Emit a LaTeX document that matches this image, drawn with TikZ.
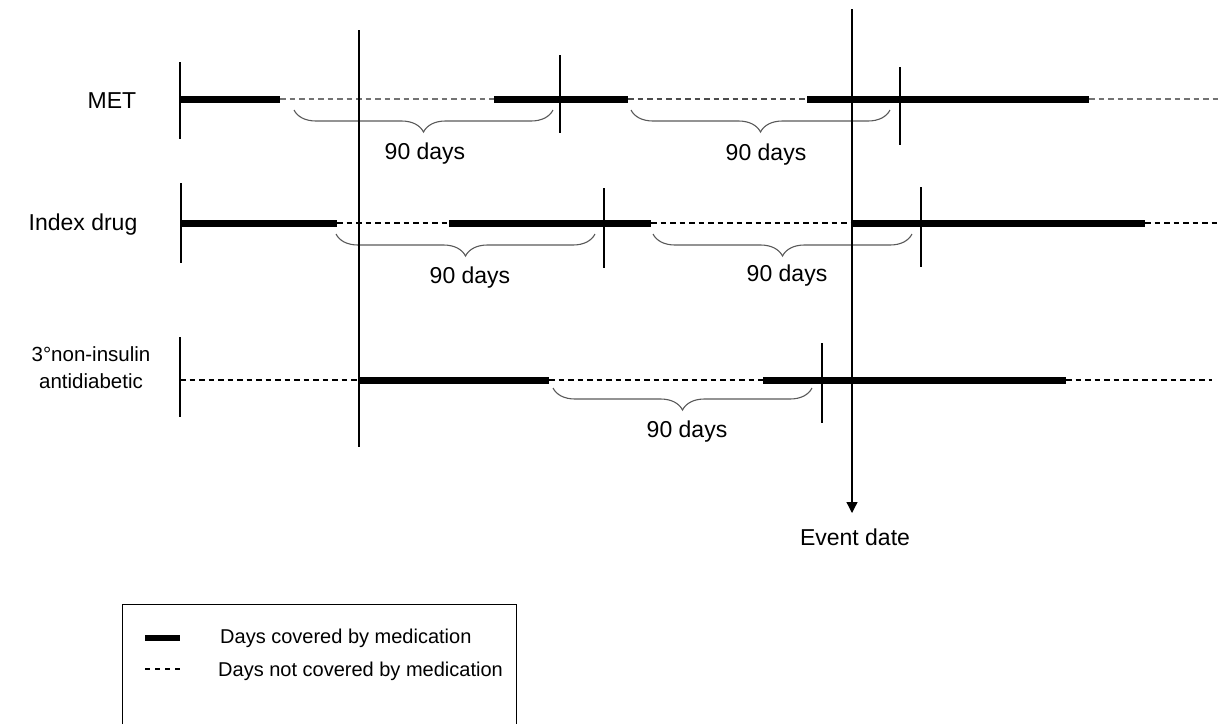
\documentclass[tikz,border=0pt]{standalone}
\usepackage{fontspec}
\setmainfont{Liberation Sans}
\usetikzlibrary{decorations.pathreplacing,arrows.meta}
\begin{document}
\begin{tikzpicture}[x=1pt,y=-1pt,
  covered/.style={line width=7pt},
  uncovered/.style={line width=1.2pt, dash pattern=on 5.5pt off 4pt},
  lightdash/.style={uncovered, draw=black!55},
  tickline/.style={line width=1.2pt},
  bracestyle/.style={draw=black!65, line width=1.1pt, decorate, decoration={brace,mirror,amplitude=22pt}},
  lbl/.style={font=\fontsize{23}{27}\selectfont, anchor=base, inner sep=0pt},
  leglbl/.style={font=\fontsize{20}{24}\selectfont, anchor=base west, inner sep=0pt}]
\path[use as bounding box] (0,0) rectangle (1221,724);

% ---------- MET row ----------
\node[lbl] (metlbl) at (112,108) {MET};
\coordinate (m0) at (180,99); \coordinate (m1) at (280,99);
\coordinate (m2) at (494,99); \coordinate (m3) at (628,99);
\coordinate (m4) at (807,99); \coordinate (m5) at (1089,99);
\coordinate (m6) at (1221,99);
\draw[covered] (m0) -- (m1);
\draw[lightdash] (m1) -- (m2);
\draw[covered] (m2) -- (m3);
\draw[uncovered, draw=black!70] (m3) -- (m4);
\draw[covered] (m4) -- (m5);
\draw[lightdash] (m5) -- (m6);
\coordinate (mt1a) at (180,62); \coordinate (mt1b) at (180,139);
\coordinate (mt2a) at (560,55); \coordinate (mt2b) at (560,133);
\coordinate (mt3a) at (900,67); \coordinate (mt3b) at (900,145);
\draw[tickline] (mt1a) -- (mt1b);
\draw[tickline] (mt2a) -- (mt2b);
\draw[tickline] (mt3a) -- (mt3b);
\coordinate (mb1a) at (294,110); \coordinate (mb1b) at (553,110);
\coordinate (mb2a) at (631,110); \coordinate (mb2b) at (890,110);
\draw[bracestyle] (mb1a) -- (mb1b);
\draw[bracestyle] (mb2a) -- (mb2b);
\node[lbl] (mdays1) at (425,159) {90 days};
\node[lbl] (mdays2) at (766,160) {90 days};

% ---------- Index drug row ----------
\node[lbl] (idxlbl) at (83,230) {Index drug};
\coordinate (i0) at (180,223); \coordinate (i1) at (337,223);
\coordinate (i2) at (449,223); \coordinate (i3) at (651,223);
\coordinate (i4) at (852,223); \coordinate (i5) at (1145,223);
\coordinate (i6) at (1221,223);
\draw[covered] (i0) -- (i1);
\draw[uncovered] (i1) -- (i2);
\draw[covered] (i2) -- (i3);
\draw[uncovered] (i3) -- (i4);
\draw[covered] (i4) -- (i5);
\draw[uncovered] (i5) -- (i6);
\coordinate (it1a) at (181,183); \coordinate (it1b) at (181,263);
\coordinate (it2a) at (604,188); \coordinate (it2b) at (604,268);
\coordinate (it3a) at (921,187); \coordinate (it3b) at (921,267);
\draw[tickline] (it1a) -- (it1b);
\draw[tickline] (it2a) -- (it2b);
\draw[tickline] (it3a) -- (it3b);
\coordinate (ib1a) at (336,234); \coordinate (ib1b) at (595,234);
\coordinate (ib2a) at (653,234); \coordinate (ib2b) at (912,234);
\draw[bracestyle] (ib1a) -- (ib1b);
\draw[bracestyle] (ib2a) -- (ib2b);
\node[lbl] (idays1) at (470,283) {90 days};
\node[lbl] (idays2) at (787,281) {90 days};

% ---------- 3rd antidiabetic row ----------
\node[font=\fontsize{20.5}{27}\selectfont, align=center, inner sep=0pt, anchor=center] (thirdlbl) at (91,368) {3°non-insulin\\antidiabetic};
\coordinate (t0) at (180,380); \coordinate (t1) at (358,380);
\coordinate (t2) at (549,380); \coordinate (t3) at (763,380);
\coordinate (t4) at (1066,380); \coordinate (t5) at (1212,380);
\draw[uncovered] (t0) -- (t1);
\draw[covered] (t1) -- (t2);
\draw[uncovered] (t2) -- (t3);
\draw[covered] (t3) -- (t4);
\draw[uncovered] (t4) -- (t5);
\coordinate (tt1a) at (180,337); \coordinate (tt1b) at (180,417);
\coordinate (tt2a) at (822,343); \coordinate (tt2b) at (822,423);
\draw[tickline] (tt1a) -- (tt1b);
\draw[tickline] (tt2a) -- (tt2b);
\coordinate (tb1a) at (553,388); \coordinate (tb1b) at (812,388);
\draw[bracestyle] (tb1a) -- (tb1b);
\node[lbl] (tdays1) at (687,437) {90 days};

% ---------- long vertical lines ----------
\coordinate (start1) at (359,30); \coordinate (start2) at (359,447);
\draw[tickline] (start1) -- (start2);
\coordinate (evtop) at (852,9);
\node[lbl] (evlbl) at (855,545) {Event date};
\coordinate (evtip) at (852,513);
\draw[line width=1.3pt, -{Triangle[length=11pt,width=11pt]}] (evtop) -- (evtip);

% ---------- legend ----------
\coordinate (lg1) at (122,724); \coordinate (lg2) at (122,604);
\coordinate (lg3) at (516,604); \coordinate (lg4) at (516,724);
\draw[line width=1pt] (lg1) -- (lg2) -- (lg3) -- (lg4);
\coordinate (ls1a) at (145,638); \coordinate (ls1b) at (180,638);
\draw[line width=6.5pt] (ls1a) -- (ls1b);
\coordinate (ls2a) at (145,669); \coordinate (ls2b) at (180,669);
\draw[line width=1.1pt, dash pattern=on 5pt off 5pt] (ls2a) -- (ls2b);
\node[leglbl] (leg1) at (220,643) {Days covered by medication};
\node[leglbl] (leg2) at (218,676) {Days not covered by medication};
\end{tikzpicture}
\end{document}
